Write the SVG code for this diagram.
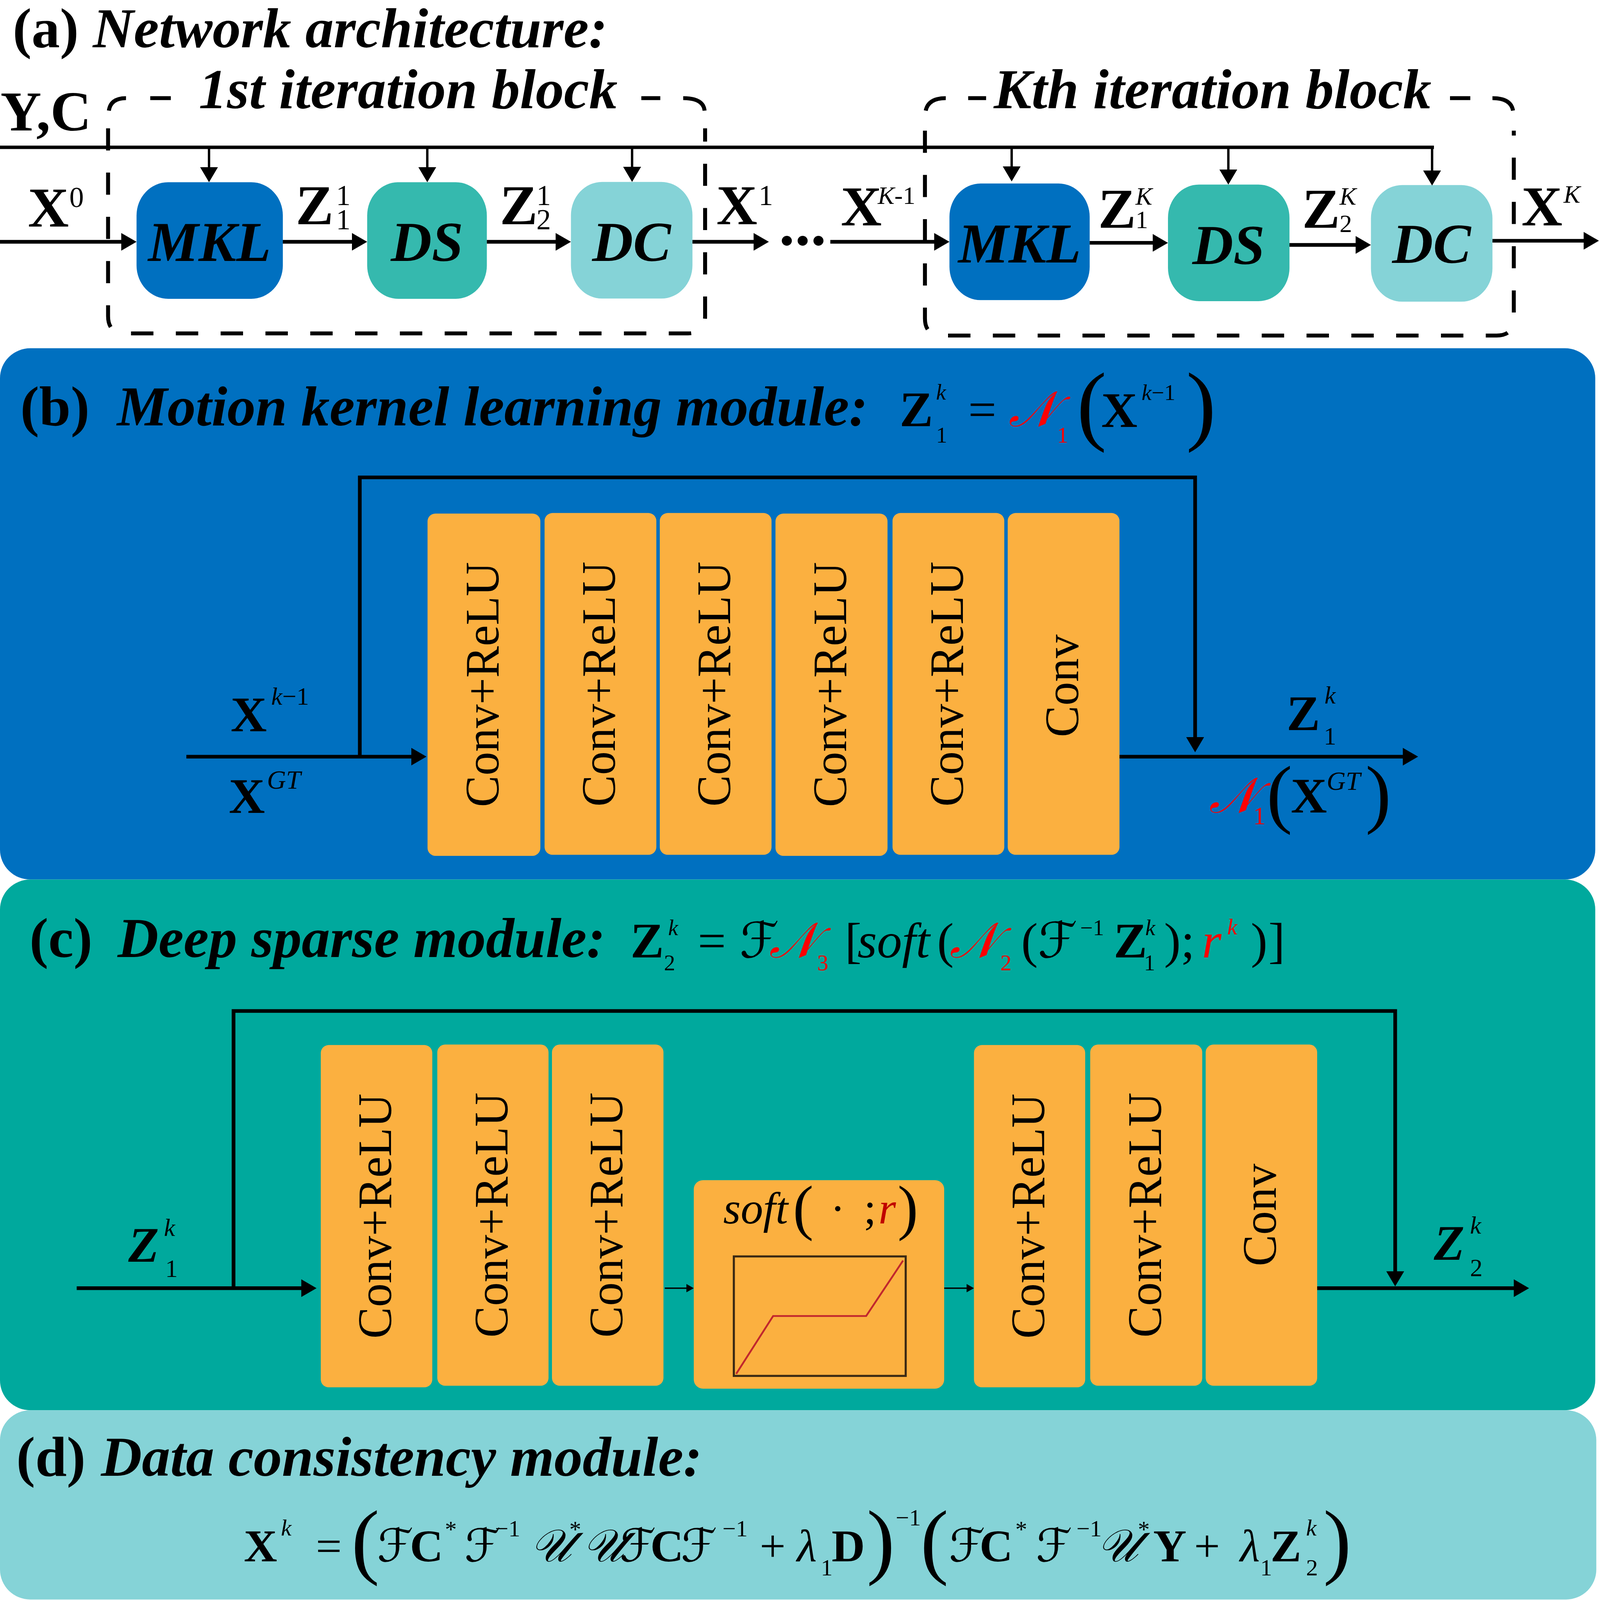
<svg xmlns="http://www.w3.org/2000/svg" width="6070" height="6147" viewBox="0 0 6070 6147" preserveAspectRatio="none" style="width:100%;height:100%">
<defs>
<style>
text{font-family:"Liberation Serif","Times New Roman",serif;fill:#000}
.b{font-weight:bold}
.i{font-style:italic}
.bi{font-weight:bold;font-style:italic}
.h{font-size:215px}
.m{font-size:190px}
.d{font-size:175px}
.s{font-size:95px}
.ss{font-size:85px}
.sd{font-size:90px}
.red{fill:#FF0000}
.sc{font-family:"DejaVu Serif","DejaVu Sans","Noto Sans",serif;font-style:italic}
.ln{stroke:#000;stroke-width:14;fill:none}
.vl{stroke:#000;stroke-width:9;fill:none}
.tn{stroke:#000;stroke-width:5;fill:none}
.dash{stroke:#000;stroke-width:15;fill:none;stroke-dasharray:85 85}
.sol{stroke:#000;stroke-width:15;fill:none}
.org{fill:#FBB040}
.cv{font-size:182px;text-anchor:middle}
.mid{text-anchor:middle}
</style>
<marker id="ah" markerUnits="userSpaceOnUse" markerWidth="60" markerHeight="68" refX="2" refY="34" orient="auto"><path d="M0,0 L58,34 L0,68 z" fill="#000"/></marker>
<marker id="as" markerUnits="userSpaceOnUse" markerWidth="30" markerHeight="32" refX="2" refY="16" orient="auto"><path d="M0,0 L28,16 L0,32 z" fill="#000"/></marker>
</defs>
<rect x="0" y="0" width="6070" height="6147" fill="#FFFFFF"/>

<!-- ===== (a) Network architecture ===== -->
<g id="part-a">
<text x="48" y="182" class="h"><tspan class="b">(a) </tspan><tspan class="bi">Network architecture:</tspan></text>
<text x="754" y="415" class="bi h">1st iteration block</text>
<text x="3770" y="415" class="bi h">Kth iteration block</text>
<text x="2" y="502" class="b h">Y,C</text>
<g id="block1">
<path class="dash" d="M410 493 V1215 Q410 1281 476 1281 H2610 Q2675 1281 2675 1215 V493"/>
<path class="sol" d="M413 425 Q420 377 478 377"/>
<path class="sol" d="M570 377 H648"/>
<path class="sol" d="M2433 377 H2505"/>
<path class="sol" d="M2592 377 Q2668 377 2673 425"/>
</g>
<g id="blockK">
<path class="dash" d="M3509 502 V1224 Q3509 1289 3574 1289 H5678 Q5743 1289 5743 1224 V502"/>
<path class="sol" d="M3512 425 Q3522 377 3588 377"/>
<path class="sol" d="M3673 377 H3741"/>
<path class="sol" d="M5501 377 H5578"/>
<path class="sol" d="M5662 377 Q5732 377 5740 425"/>
</g>
</g>

<g id="mkl1"><rect x="518" y="700" width="555" height="448" rx="120" ry="128" fill="#0070C0"/><text x="795" y="1003" class="bi h mid">MKL</text></g>
<g id="ds1"><rect x="1393" y="700" width="454" height="448" rx="118" ry="128" fill="#35B9AE"/><text x="1620" y="1003" class="bi h mid">DS</text></g>
<g id="dc1"><rect x="2166" y="699" width="461" height="448" rx="118" ry="128" fill="#85D3D7"/><text x="2396" y="1003" class="bi h mid">DC</text></g>
<g id="mkl2"><rect x="3602" y="705" width="532" height="448" rx="118" ry="128" fill="#0070C0"/><text x="3868" y="1008" class="bi h mid">MKL</text></g>
<g id="ds2"><rect x="4431" y="709" width="461" height="448" rx="118" ry="128" fill="#35B9AE"/><text x="4661" y="1014" class="bi h mid">DS</text></g>
<g id="dc2"><rect x="5201" y="711" width="461" height="448" rx="118" ry="128" fill="#85D3D7"/><text x="5431" y="1010" class="bi h mid">DC</text></g>

<g id="labels-a">
<text><tspan x="106" y="871" class="b h">X</tspan><tspan x="263" y="796" style="font-size:110px">0</tspan></text>
<text><tspan x="1122" y="862" class="b h">Z</tspan><tspan x="1275" y="788" style="font-size:110px">1</tspan><tspan x="1275" y="881" style="font-size:110px">1</tspan></text>
<text><tspan x="1896" y="862" class="b h">Z</tspan><tspan x="2035" y="788" style="font-size:110px">1</tspan><tspan x="2035" y="881" style="font-size:110px">2</tspan></text>
<text><tspan x="2718" y="862" class="b h">X</tspan><tspan x="2878" y="788" style="font-size:110px">1</tspan></text>
<text><tspan x="3190" y="866" class="b h">X</tspan><tspan x="3330" y="784" class="s i">K</tspan><tspan class="s">-1</tspan></text>
<text><tspan x="4166" y="875" class="b h">Z</tspan><tspan x="4308" y="786" class="s i">K</tspan><tspan x="4308" y="877" class="s">1</tspan></text>
<text><tspan x="4940" y="875" class="b h">Z</tspan><tspan x="5082" y="786" class="s i">K</tspan><tspan x="5082" y="891" class="s">2</tspan></text>
<text><tspan x="5772" y="866" class="b h">X</tspan><tspan x="5932" y="779" class="s i">K</tspan></text>
</g>

<g id="connectors-a">
<path d="M0 566 H5440" stroke="#000" stroke-width="13" fill="none"/>
<path class="vl" d="M793 566 V644" marker-end="url(#ah)"/>
<path class="vl" d="M1621 566 V644" marker-end="url(#ah)"/>
<path class="vl" d="M2398 566 V643" marker-end="url(#ah)"/>
<path class="vl" d="M3838 566 V641" marker-end="url(#ah)"/>
<path class="vl" d="M4660 566 V653" marker-end="url(#ah)"/>
<path class="vl" d="M5433 566 V657" marker-end="url(#ah)"/>
<path class="ln" d="M0 929 H462" marker-end="url(#ah)"/>
<path class="ln" d="M1073 929 H1337" marker-end="url(#ah)"/>
<path class="ln" d="M1847 929 H2110" marker-end="url(#ah)"/>
<path class="ln" d="M2627 929 H2861" marker-end="url(#ah)"/>
<path class="ln" d="M3150 929 H3546" marker-end="url(#ah)"/>
<path class="ln" d="M4134 933 H4375" marker-end="url(#ah)"/>
<path class="ln" d="M4892 941 H5145" marker-end="url(#ah)"/>
<path class="ln" d="M5662 925 H6010" marker-end="url(#ah)"/>
<circle cx="2985" cy="925" r="19" fill="#000"/>
<circle cx="3045" cy="925" r="19" fill="#000"/>
<circle cx="3105" cy="925" r="19" fill="#000"/>
</g>

<!-- ===== (b) Motion kernel learning module ===== -->
<g id="part-b">
<rect x="0" y="1338" width="6052" height="2041" rx="115" fill="#0070C0"/>
<text x="77" y="1635" class="h"><tspan class="b">(b)</tspan><tspan x="444" class="bi">Motion kernel learning module:</tspan></text>
<text class="m"><tspan x="3413" y="1638" class="b">Z</tspan><tspan x="3551" y="1535" class="ss i">k</tspan><tspan x="3551" y="1700" class="ss">1</tspan><tspan x="3673" y="1638">=</tspan><tspan x="3826" y="1638" class="sc red">𝒩</tspan><tspan x="4010" y="1700" class="ss red">1</tspan><tspan x="4085" y="1667" style="font-size:340px">(</tspan><tspan x="4178" y="1640" class="b">X</tspan><tspan x="4331" y="1537" class="ss i">k</tspan><tspan class="ss">−1</tspan><tspan x="4500" y="1667" style="font-size:340px">)</tspan></text>
</g>

<g id="mkl-conv1"><rect x="1622" y="1973" width="428" height="1315" rx="30" class="org"/><text class="cv" transform="translate(1891 2630) rotate(-90)">Conv+ReLU</text></g>
<g id="mkl-conv2"><rect x="2066" y="1971" width="424" height="1313" rx="30" class="org"/><text class="cv" transform="translate(2333 2628) rotate(-90)">Conv+ReLU</text></g>
<g id="mkl-conv3"><rect x="2503" y="1971" width="424" height="1313" rx="30" class="org"/><text class="cv" transform="translate(2770 2628) rotate(-90)">Conv+ReLU</text></g>
<g id="mkl-conv4"><rect x="2942" y="1973" width="425" height="1315" rx="30" class="org"/><text class="cv" transform="translate(3210 2630) rotate(-90)">Conv+ReLU</text></g>
<g id="mkl-conv5"><rect x="3386" y="1971" width="424" height="1313" rx="30" class="org"/><text class="cv" transform="translate(3653 2628) rotate(-90)">Conv+ReLU</text></g>
<g id="mkl-conv6"><rect x="3823" y="1971" width="424" height="1313" rx="30" class="org"/><text class="cv" transform="translate(4090 2635) rotate(-90)">Conv</text></g>

<g id="labels-b">
<text><tspan x="875" y="2810" class="b m">X</tspan><tspan x="1029" y="2708" class="s i">k</tspan><tspan class="s">−1</tspan></text>
<text><tspan x="868" y="3123" class="b m">X</tspan><tspan x="1013" y="3030" class="i" style="font-size:100px">GT</tspan></text>
<text><tspan x="4881" y="2805" class="b m">Z</tspan><tspan x="5025" y="2703" class="s i">k</tspan><tspan x="5022" y="2861" class="s">1</tspan></text>
<text><tspan x="4586" y="3121" class="sc red" style="font-size:190px">𝒩</tspan><tspan x="4754" y="3167" class="s red">1</tspan><tspan x="4805" y="3146" style="font-size:293px">(</tspan><tspan x="4897" y="3121" class="b m">X</tspan><tspan x="5033" y="3035" class="i" style="font-size:100px">GT</tspan><tspan x="5180" y="3146" style="font-size:293px">)</tspan></text>
</g>

<g id="connectors-b">
<path class="ln" d="M1365 2907 V1834 H4534 V2834" marker-end="url(#ah)"/>
<path class="ln" d="M707 2907 H1562" marker-end="url(#ah)"/>
<path class="ln" d="M4247 2907 H5324" marker-end="url(#ah)"/>
</g>

<!-- ===== (c) Deep sparse module ===== -->
<g id="part-c">
<rect x="0" y="3379" width="6052" height="2039" rx="115" fill="#00A99D"/>
<text x="112" y="3677" class="h"><tspan class="b">(c)</tspan><tspan x="446" class="bi">Deep sparse module:</tspan></text>
<text class="m"><tspan x="2392" y="3678" class="b">Z</tspan><tspan x="2535" y="3593" class="ss i">k</tspan><tspan x="2519" y="3728" class="ss">2</tspan><tspan x="2647" y="3678">=</tspan><tspan x="2806" y="3678" class="sc">ℱ</tspan><tspan x="2918" y="3678" class="sc red">𝒩</tspan><tspan x="3100" y="3728" class="ss red">3</tspan><tspan x="3205" y="3678">[</tspan><tspan x="3253" y="3678" class="i">soft</tspan><tspan x="3555" y="3678">(</tspan><tspan x="3603" y="3678" class="sc red">𝒩</tspan><tspan x="3795" y="3728" class="ss red">2</tspan><tspan x="3874" y="3678">(</tspan><tspan x="3938" y="3678" class="sc">ℱ</tspan><tspan x="4098" y="3593" class="ss">−1</tspan><tspan x="4225" y="3678" class="b">Z</tspan><tspan x="4345" y="3593" class="ss i">k</tspan><tspan x="4340" y="3728" class="ss">1</tspan><tspan x="4416" y="3678">)</tspan><tspan x="4480" y="3678">;</tspan><tspan x="4560" y="3678" class="i red">r</tspan><tspan x="4656" y="3590" class="ss i red">k</tspan><tspan x="4745" y="3678">)</tspan><tspan x="4812" y="3678">]</tspan></text>
</g>

<g id="ds-conv1"><rect x="1217" y="4015" width="423" height="1315" rx="30" class="org"/><text class="cv" transform="translate(1483 4672) rotate(-90)">Conv+ReLU</text></g>
<g id="ds-conv2"><rect x="1659" y="4013" width="422" height="1311" rx="30" class="org"/><text class="cv" transform="translate(1925 4668) rotate(-90)">Conv+ReLU</text></g>
<g id="ds-conv3"><rect x="2094" y="4013" width="423" height="1311" rx="30" class="org"/><text class="cv" transform="translate(2361 4668) rotate(-90)">Conv+ReLU</text></g>
<g id="ds-soft">
<rect x="2632" y="4534" width="950" height="801" rx="35" class="org"/>
<text style="font-size:170px"><tspan x="2744" y="4701" class="i">soft</tspan><tspan x="3008" y="4719" style="font-size:235px">(</tspan><tspan x="3150" y="4701">·</tspan><tspan x="3277" y="4701">;</tspan><tspan x="3333" y="4701" class="i" style="fill:#C00000">r</tspan><tspan x="3405" y="4719" style="font-size:235px">)</tspan></text>
<rect x="2784" y="4827" width="652" height="459" fill="none" stroke="#3B2A14" stroke-width="8"/>
<polyline points="2793,5278 2933,5056 3286,5056 3426,4843" fill="none" stroke="#C1272D" stroke-width="7"/>
</g>
<g id="ds-conv4"><rect x="3695" y="4015" width="422" height="1315" rx="30" class="org"/><text class="cv" transform="translate(3961 4672) rotate(-90)">Conv+ReLU</text></g>
<g id="ds-conv5"><rect x="4136" y="4013" width="425" height="1311" rx="30" class="org"/><text class="cv" transform="translate(4404 4668) rotate(-90)">Conv+ReLU</text></g>
<g id="ds-conv6"><rect x="4574" y="4013" width="423" height="1311" rx="30" class="org"/><text class="cv" transform="translate(4840 4668) rotate(-90)">Conv</text></g>

<g id="labels-c">
<text><tspan x="487" y="4848" class="bi m">Z</tspan><tspan x="622" y="4748" class="s i">k</tspan><tspan x="627" y="4906" class="s">1</tspan></text>
<text><tspan x="5440" y="4840" class="bi m">Z</tspan><tspan x="5577" y="4740" class="s i">k</tspan><tspan x="5577" y="4903" class="s">2</tspan></text>
</g>

<g id="connectors-c">
<path class="ln" d="M886 4949 V3884 H5293 V4886" marker-end="url(#ah)"/>
<path class="ln" d="M291 4949 H1145" marker-end="url(#ah)"/>
<path class="tn" d="M2522 4949 H2606" marker-end="url(#as)"/>
<path class="tn" d="M3582 4949 H3669" marker-end="url(#as)"/>
<path class="ln" d="M4997 4949 H5745" marker-end="url(#ah)"/>
</g>

<!-- ===== (d) Data consistency module ===== -->
<g id="part-d">
<rect x="0" y="5418" width="6056" height="727" rx="115" fill="#85D3D7"/>
<text x="62" y="5670" class="h"><tspan class="b">(d)</tspan><tspan x="383" class="bi">Data consistency module:</tspan></text>
<text class="d"><tspan x="925" y="5998" class="b">X</tspan><tspan x="1066" y="5900" class="sd i">k</tspan><tspan x="1198" y="5998">=</tspan><tspan x="1333" y="6025" style="font-size:320px">(</tspan><tspan x="1431" y="5998" class="sc">ℱ</tspan><tspan x="1555" y="5998" class="b">C</tspan><tspan x="1688" y="5905" class="sd">*</tspan><tspan x="1762" y="5998" class="sc">ℱ</tspan><tspan x="1878" y="5902" class="sd">−1</tspan><tspan x="2011" y="5998" class="sc">𝒰</tspan><tspan x="2160" y="5905" class="sd">*</tspan><tspan x="2210" y="5998" class="sc">𝒰</tspan><tspan x="2351" y="5998" class="sc">ℱ</tspan><tspan x="2467" y="5998" class="b">C</tspan><tspan x="2583" y="5998" class="sc">ℱ</tspan><tspan x="2741" y="5902" class="sd">−1</tspan><tspan x="2882" y="5998">+</tspan><tspan x="3023" y="5998" class="i">λ</tspan><tspan x="3114" y="6053" class="sd">1</tspan><tspan x="3155" y="5998" class="b">D</tspan><tspan x="3288" y="6025" style="font-size:320px">)</tspan><tspan x="3398" y="5860" class="sd">−1</tspan><tspan x="3492" y="6025" style="font-size:320px">(</tspan><tspan x="3600" y="5998" class="sc">ℱ</tspan><tspan x="3716" y="5998" class="b">C</tspan><tspan x="3852" y="5905" class="sd">*</tspan><tspan x="3930" y="5998" class="sc">ℱ</tspan><tspan x="4084" y="5902" class="sd">−1</tspan><tspan x="4162" y="5998" class="sc">𝒰</tspan><tspan x="4317" y="5905" class="sd">*</tspan><tspan x="4375" y="5998" class="b">Y</tspan><tspan x="4530" y="5998">+</tspan><tspan x="4704" y="5998" class="i">λ</tspan><tspan x="4781" y="6053" class="sd">1</tspan><tspan x="4820" y="5998" class="b">Z</tspan><tspan x="4955" y="5900" class="sd i">k</tspan><tspan x="4955" y="6053" class="sd">2</tspan><tspan x="5020" y="6025" style="font-size:320px">)</tspan></text>
</g>
</svg>
